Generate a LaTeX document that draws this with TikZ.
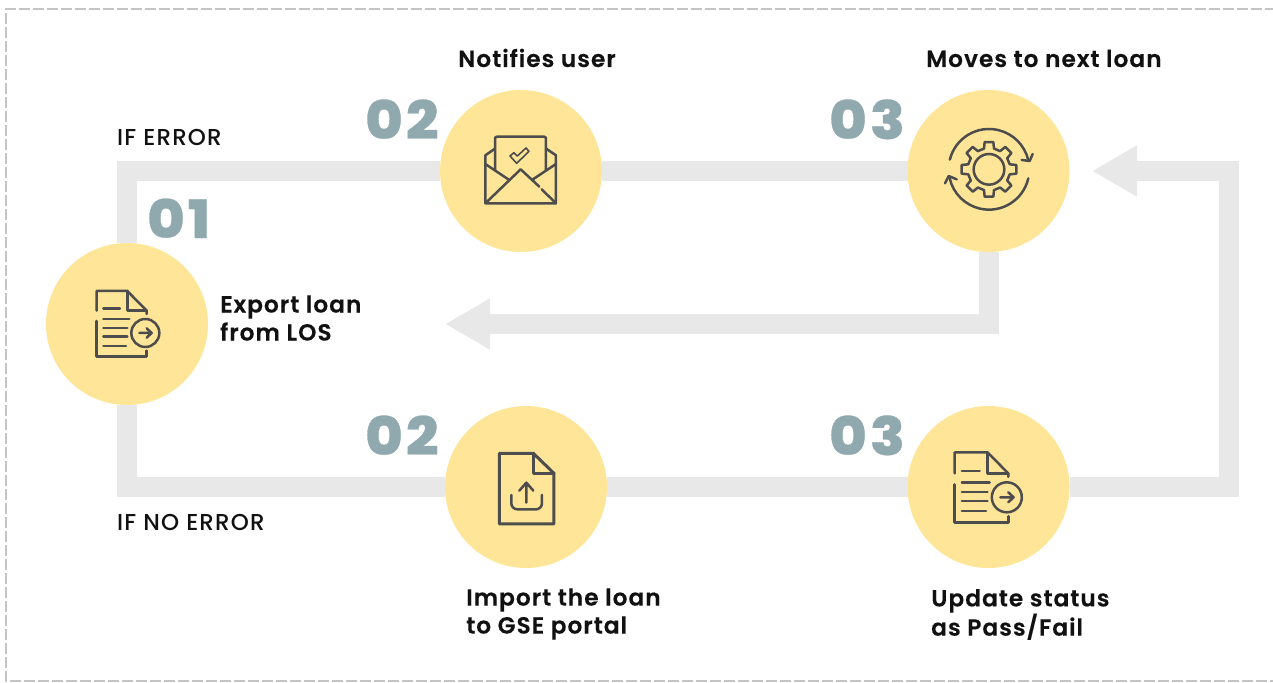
\documentclass[tikz,border=0pt]{standalone}
\usepackage{fontspec}
\setmainfont{Poppins}[LetterSpace=4.3,BoldFont={Poppins SemiBold},BoldFeatures={FakeBold=0.25}]
\newfontfamily\condfont{Poppins Medium}[LetterSpace=5]
\newfontfamily\numfont{Poppins}[BoldFont={Poppins ExtraBold},BoldFeatures={FakeBold=0.5},FakeStretch=1.08,LetterSpace=6]
\usetikzlibrary{arrows.meta}
\definecolor{frameC}{HTML}{C4C4C4}
\definecolor{linkC}{HTML}{E8E8E8}
\definecolor{discC}{HTML}{FEE597}
\definecolor{iconC}{HTML}{4D4D4D}
\definecolor{numC}{HTML}{8FA9AF}
\definecolor{textC}{HTML}{111111}
\tikzset{
  x=1pt,y=-1pt,
  disc/.style={circle,fill=discC,minimum size=162pt,inner sep=0pt,outer sep=0pt},
  link/.style={draw=linkC,line width=20pt,line cap=butt,line join=miter},
  linkarrow/.style={link,-{Triangle[length=45pt,width=48pt]}},
  num/.style={text=numC,font=\numfont\bfseries\fontsize{53}{53}\selectfont,anchor=base west,inner sep=0pt},
  lab/.style={text=textC,font=\bfseries\fontsize{23.3}{28}\selectfont,anchor=west,align=left,inner sep=0pt},
  cond/.style={text=textC,font=\condfont\fontsize{23}{28}\selectfont,anchor=base west,inner sep=0pt},
  ico/.style={draw=iconC,line width=2.5pt,line cap=round,line join=round},
  docicon/.pic={
    \draw[ico] (170,212)--(170,153)--(262,153)--(320,212)--(320,222);
    \draw[ico] (262,153)--(262,212)--(320,212);
    \draw[ico] (170,243)--(170,350)--(320,350)--(320,332);
    \draw[ico] (190,205)--(240,205) (190,237)--(268,237) (190,264)--(262,264) (190,290)--(262,290) (190,318)--(258,318);
    \draw[ico] (316,279) circle[radius=42];
    \draw[ico] (298,279)--(335,279) (320,265)--(335,279)--(320,293);
  },
  mailicon/.pic={
    \draw[ico] (165,176)--(136,196)--(136,340)--(348,340)--(348,196)--(320,177);
    \draw[ico,rounded corners=2pt] (165,240)--(165,140)--(318,140)--(318,240);
    \draw[ico] (136,222)--(208,270) (348,222)--(276,270);
    \draw[ico] (136,340)--(242,238)--(298,290) (305,298)--(348,340);
    \draw[ico,line width=1.6pt] (210,198)--(222,188)--(232,198)--(258,174)--(267,184)--(230,220)--cycle;
  },
  gearicon/.pic={
    \begin{scope}[shift={(267,238)}]
      \draw[ico] (0,0) circle[radius=46];
      \draw[ico] (-13.6:64) \foreach \a in {0,45,...,315}{ -- (\a-13.6:64) -- (\a-9:83) -- (\a+9:83) -- (\a+13.6:64)} -- cycle;
      \draw[ico] (194:121) arc[start angle=194,end angle=346,radius=121];
      \draw[ico] (13:121) arc[start angle=13,end angle=167,radius=121];
    \end{scope}
    \draw[ico] (365,210)--(389,213)--(398,192);
    \draw[ico] (135,280)--(146,258)--(170,268);
  },
  uploadicon/.pic={
    \draw[ico,line width=3pt] (178,130)--(280,130)--(342,190)--(342,342)--(178,342)--cycle;
    \draw[ico,line width=3pt] (280,130)--(280,190)--(342,190);
    \draw[ico,rounded corners=6pt] (214,255)--(214,298)--(306,298)--(306,255);
    \draw[ico] (259,278)--(259,220) (238,242)--(259,218)--(280,242);
  }
}
\begin{document}
\begin{tikzpicture}
\useasboundingbox (0,0) rectangle (1273,682);
\draw[frameC,line width=2pt,dash pattern=on 11pt off 3pt] (1290,9)--(6,9)--(6,681)--(1290,681);

\coordinate (midturn) at (988.5,324);
\coordinate (midtip) at (445,324);
\coordinate (rightlow) at (1229,487);
\coordinate (righttop) at (1229,171);
\coordinate (righttip) at (1092,171);

\node[disc] (export) at (127,324) {};
\node[disc] (notify) at (521,171) {};
\node[disc] (moves) at (988.5,171) {};
\node[disc] (import) at (526,487) {};
\node[disc] (update) at (988.5,487) {};

\draw[link] (export.north) |- (notify.west);
\draw[link] (notify.east) -- (moves.west);
\draw[linkarrow] (moves.south) -- (midturn) -- (midtip);
\draw[link] (export.south) |- (import.west);
\draw[link] (import.east) -- (update.west);
\draw[linkarrow] (update.east) -- (rightlow) -- (righttop) -- (righttip);

\pic[shift={(40,240)},scale=.3333] {docicon};
\pic[shift={(440,90)},scale=.3333] {mailicon};
\pic[shift={(900,90)},scale=.3333] {gearicon};
\pic[shift={(440,410)},scale=.3333] {uploadicon};
\pic[shift={(894,397.7)},scale=.357] {docicon};

\node[num] (n1) at (147,238) {01};
\node[num] (n2) at (365,139) {02};
\node[num] (n3) at (829,139) {03};
\node[num] (n4) at (365,455) {02};
\node[num] (n5) at (829,455) {03};

\node[lab,anchor=base west] (l1) at (458,67) {Notifies user};
\node[lab,anchor=base west] (l2) at (926,67) {Moves to next loan};
\node[lab] (l3) at (220,318) {Export loan\\from LOS};
\node[lab] (l4) at (466,614) {Import the loan\\to GSE portal};
\node[lab] (l5) at (931,614.5) {Update status\\as Pass/Fail};
\node[cond] (c1) at (117,145) {IF ERROR};
\node[cond] (c2) at (117,530) {IF NO ERROR};
\end{tikzpicture}
\end{document}
